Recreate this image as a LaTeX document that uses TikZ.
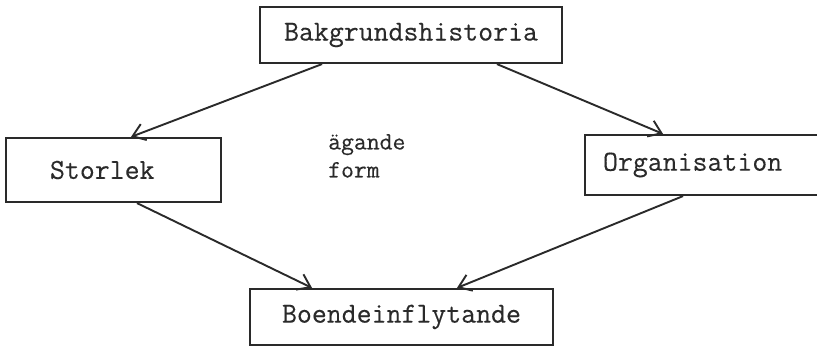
\documentclass[tikz,border=0pt]{standalone}
\usepackage{fontspec}
\newfontfamily\typewriter{Latin Modern Mono}[FakeBold=0.25]
\usetikzlibrary{arrows.meta}
\definecolor{ink}{HTML}{2A2A2A}
\begin{document}
\begin{tikzpicture}[x=1pt,y=-1pt,
  box/.style={draw=ink,line width=2.2pt,inner ysep=0pt,text=ink,
    font=\typewriter\fontsize{29}{34}\selectfont},
  flow/.style={draw=ink,line width=1.9pt,
    -{Straight Barb[length=12pt,width=17pt,line width=1.9pt]}},
  note/.style={text=ink,align=left,anchor=north west,inner sep=0pt,
    font=\typewriter\fontsize{25}{28}\selectfont}]
  \clip (0,0) rectangle (817,347);
  \fill[white] (0,0) rectangle (817,347);

  % boxes
  \node[box,minimum width=302pt,minimum height=56pt] (bak) at (411,35) {Bakgrundshistoria};
  \node[box,minimum height=64pt,text width=127pt,inner xsep=44pt,align=left] (stor) at (113.5,170) {Storlek};
  \node[box,minimum height=60pt,text width=201pt,inner xsep=18pt,align=left] (org) at (703.5,165) {Organisation};
  \node[box,minimum width=303pt,minimum height=56pt] (boende) at (401.5,317) {Boendeinflytande};

  % free-standing label between the branches
  \node[note] (agande) at (328,134) {ägande\\form};

  % connectors
  \draw[flow] ([xshift=-89pt]bak.south) -- ([xshift=17.5pt]stor.north);
  \draw[flow] ([xshift=86pt]bak.south) -- ([xshift=-40.5pt]org.north);
  \draw[flow] ([xshift=23.5pt]stor.south) -- ([xshift=-89.5pt]boende.north);
  \draw[flow] ([xshift=-20.5pt]org.south) -- ([xshift=55.5pt]boende.north);
\end{tikzpicture}
\end{document}
